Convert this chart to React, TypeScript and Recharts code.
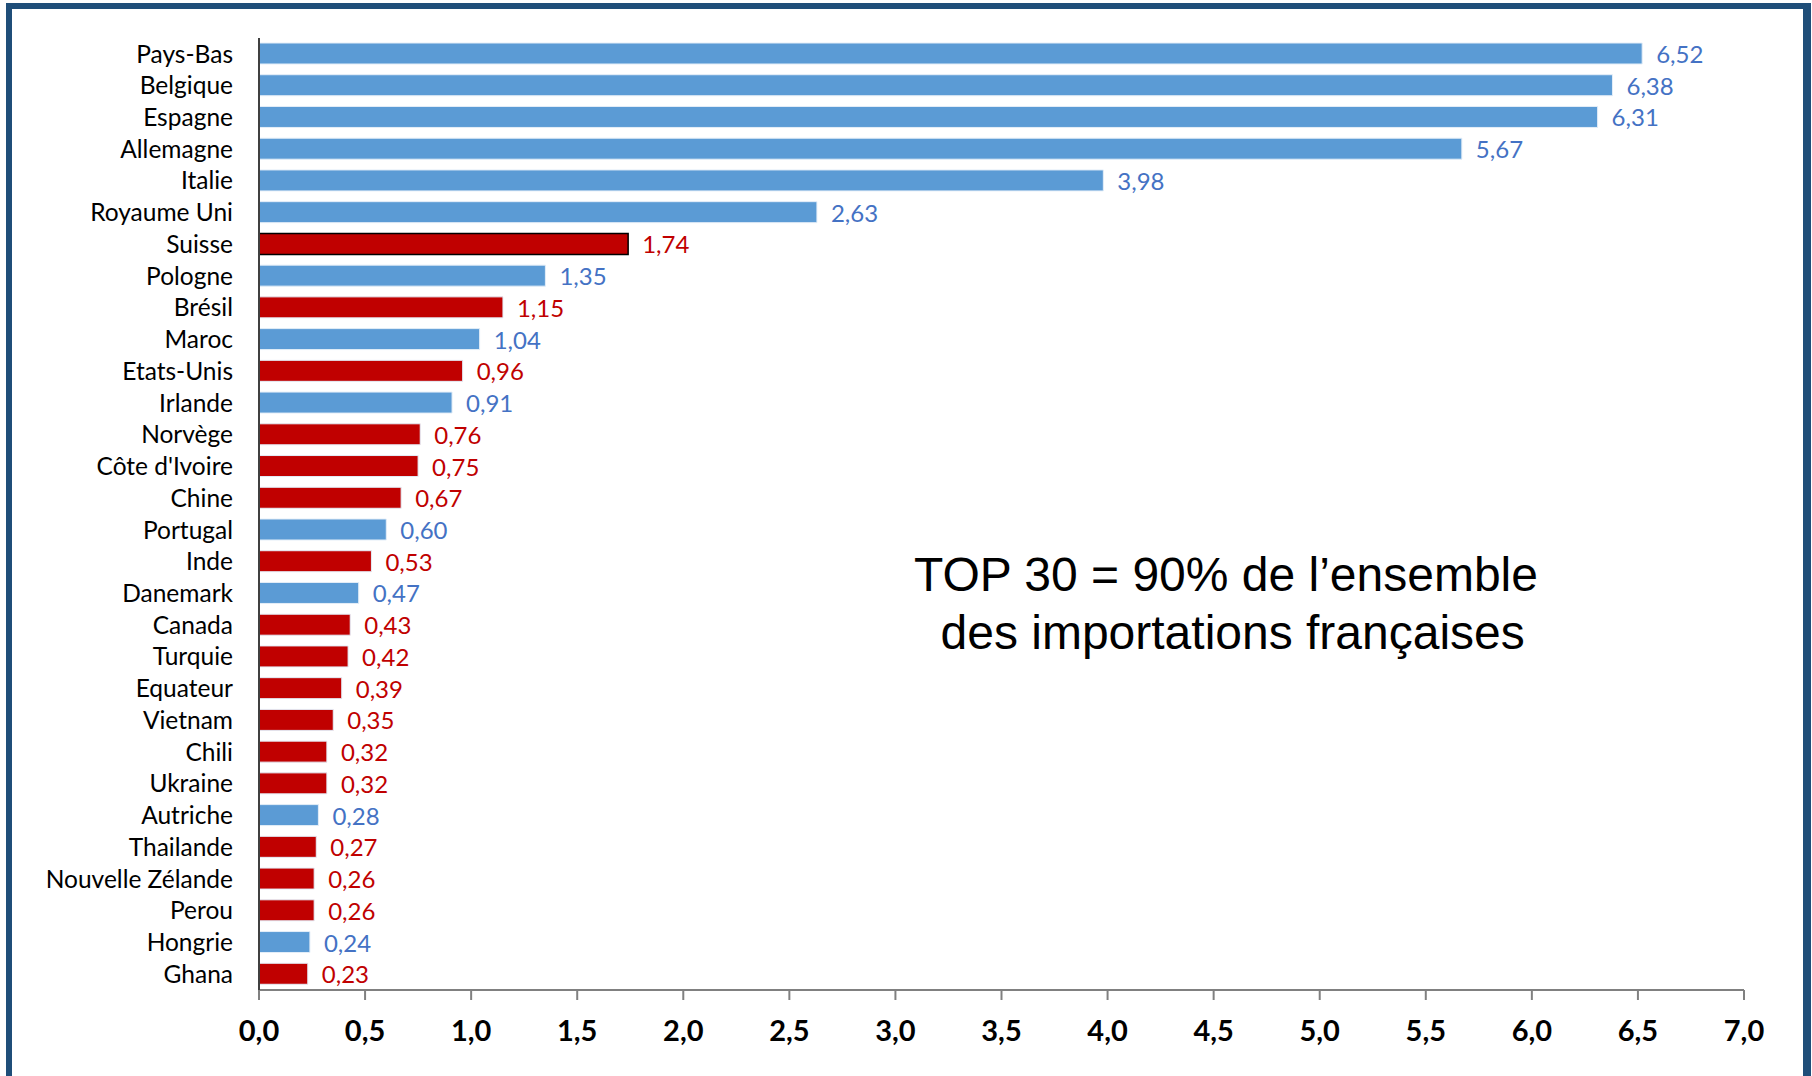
import React from "react";
import { BarChart, Bar, XAxis, YAxis, Cell, LabelList } from "recharts";

// pays, du plus gros au plus petit
const countries = [
  "Pays-Bas", "Belgique", "Espagne", "Allemagne", "Italie", "Royaume Uni",
  "Suisse", "Pologne", "Brésil", "Maroc", "Etats-Unis", "Irlande",
  "Norvège", "Côte d'Ivoire", "Chine", "Portugal", "Inde", "Danemark",
  "Canada", "Turquie", "Equateur", "Vietnam", "Chili", "Ukraine",
  "Autriche", "Thailande", "Nouvelle Zélande", "Perou", "Hongrie", "Ghana",
];

const values = [
  6.52, 6.38, 6.31, 5.67, 3.98, 2.63,
  1.74, 1.35, 1.15, 1.04, 0.96, 0.91,
  0.76, 0.75, 0.67, 0.6, 0.53, 0.47,
  0.43, 0.42, 0.39, 0.35, 0.32, 0.32,
  0.28, 0.27, 0.26, 0.26, 0.24, 0.23,
];

// "b" = barre bleue, "r" = barre rouge
const groups = [
  "b", "b", "b", "b", "b", "b",
  "r", "b", "r", "b", "r", "b",
  "r", "r", "r", "b", "r", "b",
  "r", "r", "r", "r", "r", "r",
  "b", "r", "r", "r", "b", "r",
];

const outlined = ["Suisse"];

const xTicks = [0, 0.5, 1, 1.5, 2, 2.5, 3, 3.5, 4, 4.5, 5, 5.5, 6, 6.5, 7];

const BLUE = "#5B9BD5";
const BLUE_TEXT = "#4472C4";
const RED = "#C00000";
const FONT = "Lato, 'Open Sans', sans-serif";

const data = countries.map((country, i) => ({
  country,
  value: values[i],
  group: groups[i],
}));

const fmt = (v: number, d: number) => v.toFixed(d).replace(".", ",");

const ValueLabel = (props: any) => {
  const { x, y, width, height, value, index } = props;
  const color = groups[index] === "r" ? RED : BLUE_TEXT;
  return (
    <text
      x={Number(x) + Number(width) + 14}
      y={Number(y) + Number(height) / 2}
      dominantBaseline="central"
      fill={color}
      fontSize={24}
      fontFamily={FONT}
    >
      {fmt(Number(value), 2)}
    </text>
  );
};

export default function App() {
  return (
    <div
      style={{
        position: "absolute",
        left: 0,
        top: 0,
        width: 1812,
        height: 1076,
        background: "#fff",
        overflow: "hidden",
      }}
    >
      <div
        style={{
          position: "absolute",
          left: 6,
          top: 3,
          width: 1805,
          height: 1200,
          borderStyle: "solid",
          borderColor: "#1F4E79",
          borderWidth: "6px 8px 6px 6px",
          boxSizing: "border-box",
        }}
      />
      <div style={{ position: "absolute", left: 0, top: 0 }}>
        <BarChart
          width={1812}
          height={1076}
          data={data}
          layout="vertical"
          barCategoryGap={0}
          margin={{ top: 38, right: 68, left: 0, bottom: 26 }}
        >
          <XAxis
            type="number"
            domain={[0, 7]}
            ticks={xTicks}
            interval={0}
            tickFormatter={(v: number) => fmt(v, 1)}
            height={60}
            tickSize={10}
            tickMargin={20}
            axisLine={{ stroke: "#808080", strokeWidth: 2 }}
            tickLine={{ stroke: "#808080", strokeWidth: 2 }}
            tick={{ fill: "#000", fontSize: 29, fontWeight: 700, fontFamily: FONT }}
          />
          <XAxis
            xAxisId="top"
            orientation="top"
            type="number"
            domain={[0, 7]}
            height={0}
            tick={false}
            tickLine={false}
            axisLine={{ stroke: "#595959", strokeWidth: 1.5 }}
          />
          <YAxis
            type="category"
            dataKey="country"
            width={259}
            interval={0}
            tickSize={0}
            tickMargin={26}
            tickLine={false}
            axisLine={{ stroke: "#404040", strokeWidth: 2 }}
            tick={{ fill: "#000", fontSize: 24.5, fontFamily: FONT }}
          />
          <YAxis
            yAxisId="right"
            orientation="right"
            type="category"
            dataKey="country"
            width={0}
            tick={false}
            tickLine={false}
            axisLine={{ stroke: "#808080", strokeWidth: 1.5 }}
          />
          <Bar dataKey="value" barSize={21} isAnimationActive={false}>
            {data.map((d) => (
              <Cell
                key={d.country}
                fill={d.group === "r" ? RED : BLUE}
                stroke={outlined.includes(d.country) ? "#000" : "#E4EEF8"}
                strokeWidth={outlined.includes(d.country) ? 1.5 : 1}
              />
            ))}
            <LabelList dataKey="value" content={ValueLabel} />
          </Bar>
        </BarChart>
      </div>
      <div
        style={{
          position: "absolute",
          left: 826,
          top: 546,
          width: 800,
          textAlign: "center",
          whiteSpace: "pre",
          fontFamily: "'Liberation Sans', Arial, sans-serif",
          fontSize: 48,
          lineHeight: "58px",
          color: "#000",
        }}
      >
        {"TOP 30 = 90% de l’ensemble\n des importations françaises"}
      </div>
    </div>
  );
}
